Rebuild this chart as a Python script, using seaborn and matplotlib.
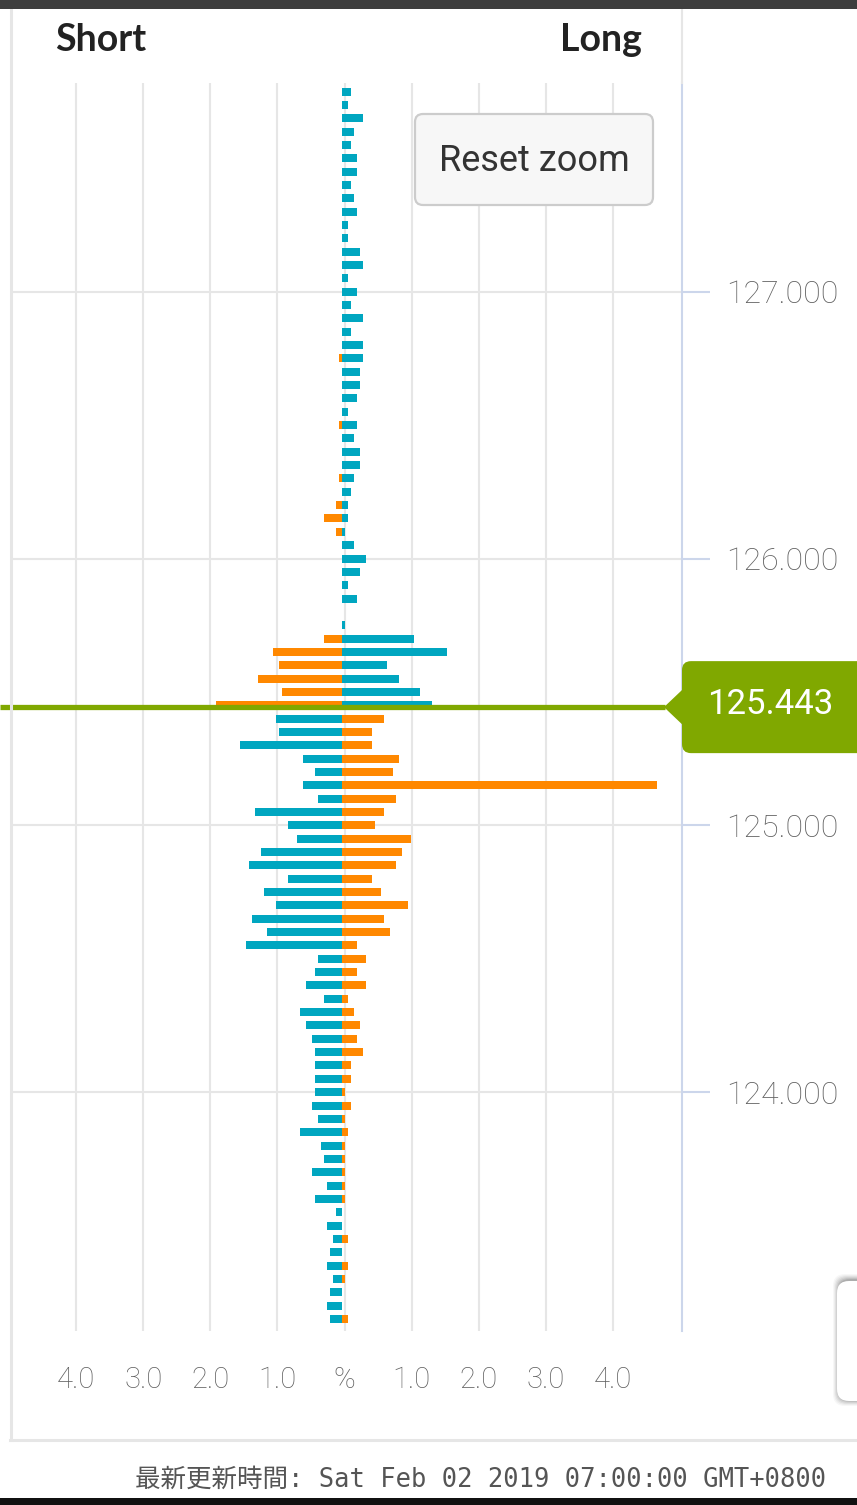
import numpy as np
import pandas as pd
import matplotlib
matplotlib.use("Agg")
import matplotlib.pyplot as plt
import seaborn as sns
from matplotlib import font_manager
from matplotlib.patches import FancyBboxPatch, Rectangle, Polygon
from matplotlib.lines import Line2D
from matplotlib.transforms import IdentityTransform, blended_transform_factory

# ---------------- data ----------------
prices = [
    127.75, 127.70, 127.65, 127.60, 127.55, 127.50, 127.45, 127.40, 127.35, 127.30,
    127.25, 127.20, 127.15, 127.10, 127.05, 127.00, 126.95, 126.90, 126.85, 126.80,
    126.75, 126.70, 126.65, 126.60, 126.55, 126.50, 126.45, 126.40, 126.35, 126.30,
    126.25, 126.20, 126.15, 126.10, 126.05, 126.00, 125.95, 125.90, 125.85, 125.80,
    125.75, 125.70, 125.65, 125.60, 125.55, 125.50, 125.45, 125.40, 125.35, 125.30,
    125.25, 125.20, 125.15, 125.10, 125.05, 125.00, 124.95, 124.90, 124.85, 124.80,
    124.75, 124.70, 124.65, 124.60, 124.55, 124.50, 124.45, 124.40, 124.35, 124.30,
    124.25, 124.20, 124.15, 124.10, 124.05, 124.00, 123.95, 123.90, 123.85, 123.80,
    123.75, 123.70, 123.65, 123.60, 123.55, 123.50, 123.45, 123.40, 123.35, 123.30,
    123.25, 123.20, 123.15,
]

# percentage on the short (left) side
short_pct = [
    0, 0, 0, 0, 0, 0, 0, 0, 0, 0,
    0, 0, 0, 0, 0, 0, 0, 0, 0, 0,
    0.045, 0, 0, 0, 0, 0.045, 0, 0, 0, 0.045,
    0, 0.09, 0.27, 0.09, 0, 0, 0, 0, 0, 0,
    0, 0.27, 1.03, 0.94, 1.25, 0.89, 1.88,
    0.98, 0.94, 1.52, 0.58, 0.40, 0.58, 0.36, 1.30, 0.80, 0.67,
    1.21, 1.39, 0.80, 1.16, 0.98, 1.34, 1.12, 1.43, 0.36, 0.40,
    0.54, 0.27, 0.63, 0.54, 0.45, 0.40, 0.40, 0.40, 0.40, 0.45,
    0.36, 0.63, 0.31, 0.27, 0.45, 0.22, 0.40, 0.09, 0.22, 0.13,
    0.18, 0.22, 0.13, 0.18, 0.22, 0.18,
]

# percentage on the long (right) side
long_pct = [
    0.13, 0.09, 0.31, 0.18, 0.13, 0.22, 0.22, 0.13, 0.18, 0.22,
    0.09, 0.09, 0.27, 0.31, 0.09, 0.22, 0.13, 0.31, 0.13, 0.31,
    0.31, 0.27, 0.27, 0.22, 0.09, 0.22, 0.18, 0.27, 0.27, 0.18,
    0.13, 0.09, 0.09, 0.045, 0.18, 0.36, 0.27, 0.09, 0.22, 0,
    0.045, 1.07, 1.56, 0.67, 0.85, 1.16, 1.34,
    0.63, 0.45, 0.45, 0.85, 0.76, 4.69, 0.80, 0.63, 0.49, 1.03,
    0.89, 0.80, 0.45, 0.58, 0.98, 0.63, 0.72, 0.22, 0.36, 0.22,
    0.36, 0.09, 0.18, 0.27, 0.22, 0.31, 0.13, 0.13, 0.045, 0.13,
    0.045, 0.09, 0.045, 0.045, 0.045, 0.045, 0.045, 0, 0, 0.09,
    0, 0.09, 0.045, 0, 0, 0.09,
]

current_price = 125.443
current_label = "125.443"

x_tick_values = [-4, -3, -2, -1, 0, 1, 2, 3, 4]
x_tick_labels = ["4.0", "3.0", "2.0", "1.0", "%", "1.0", "2.0", "3.0", "4.0"]
y_tick_values = [124, 125, 126, 127]
y_tick_labels = ["124.000", "125.000", "126.000", "127.000"]
header_labels = ["Short", "Long"]
button_label = "Reset zoom"
footer_text = "最新更新時間: Sat Feb 02 2019 07:00:00 GMT+0800"

TEAL = "#00a6c0"
ORANGE = "#ff8800"
GREEN = "#80a800"
GRID = "#e6e6e6"
AXIS = "#ccd6eb"
LABEL = "#606060"

installed = {f.name for f in font_manager.fontManager.ttflist}

# ---------------- build table ----------------
rows = []
for p, s, l in zip(prices, short_pct, long_pct):
    above = p > current_price
    rows.append({"price": p, "pct": -s, "kind": "orange" if above else "teal"})
    rows.append({"price": p, "pct": l, "kind": "teal" if above else "orange"})
df = pd.DataFrame(rows)

# ---------------- figure ----------------
W, H = 857, 1505
fig = plt.figure(figsize=(W / 100, H / 100), dpi=100, facecolor="white")

ax_l, ax_r, ax_t, ax_b = 11, 682, 83, 1331
ax = fig.add_axes([ax_l / W, 1 - ax_b / H, (ax_r - ax_l) / W, (ax_b - ax_t) / H])
ax.set_facecolor("white")

sns.barplot(
    data=df, x="pct", y="price", hue="kind",
    palette={"teal": TEAL, "orange": ORANGE},
    orient="h", native_scale=True, dodge=False, width=0.6,
    errorbar=None, legend=False, saturation=1, linewidth=0, ax=ax, zorder=3,
)

px_per_unit = 67.1
zero_px = 342
ax.set_xlim((ax_l - zero_px) / px_per_unit, (ax_r - zero_px) / px_per_unit)
ax.set_ylim(123.105, 127.782)

grid_offset = 2.5 / px_per_unit
ax.set_xticks([v + grid_offset for v in x_tick_values])
ax.set_xticklabels(x_tick_labels)
ax.set_yticks(y_tick_values)
ax.set_yticklabels(y_tick_labels)
ax.set_xlabel("")
ax.set_ylabel("")

ax.grid(True, color=GRID, linewidth=1.5, zorder=0)
ax.set_axisbelow(True)

for side in ["top", "left", "bottom"]:
    ax.spines[side].set_visible(False)
ax.spines["right"].set_color(AXIS)
ax.spines["right"].set_linewidth(1.5)

ax.yaxis.tick_right()
ax.tick_params(axis="y", left=False, right=True, labelleft=False, labelright=True,
               length=20, width=1.5, color=AXIS, pad=12, labelsize=23, labelcolor=LABEL)
ax.tick_params(axis="x", bottom=True, length=0, pad=25, labelsize=21, labelcolor=LABEL)
for lab in ax.get_yticklabels() + ax.get_xticklabels():
    lab.set_fontfamily(["Roboto", "DejaVu Sans"])
    lab.set_fontweight("light")

# current price line
btf = blended_transform_factory(ax.transAxes, ax.transData)
ax.plot([(0 - ax_l) / (ax_r - ax_l), (665 - ax_l) / (ax_r - ax_l)],
        [current_price, current_price], transform=btf, color=GREEN,
        linewidth=3.8, clip_on=False, zorder=6, solid_capstyle="butt")

ident = IdentityTransform()
py = ax.transData.transform((0, current_price))[1]
fig.add_artist(FancyBboxPatch((682, py - 46), 200, 92,
                              boxstyle="round,pad=0,rounding_size=9",
                              fc=GREEN, ec="none", transform=ident, zorder=5))
fig.add_artist(Polygon([(664, py), (684, py + 19), (684, py - 19)], closed=True,
                       fc=GREEN, ec="none", transform=ident, zorder=5))
fig.text(770, py + 3, current_label, transform=ident, ha="center", va="center",
         color="white", fontsize=25, family=["Roboto", "DejaVu Sans"],
         fontweight="normal", zorder=6)

# header labels
head_family = ["Lato", "DejaVu Sans"] if "Lato" in installed else ["DejaVu Sans"]
fig.text(101 / W, 1 - 40 / H, header_labels[0], ha="center", va="center",
         fontsize=27, fontweight="bold", family=head_family, color="#222222")
fig.text(601 / W, 1 - 40 / H, header_labels[1], ha="center", va="center",
         fontsize=27, fontweight="bold", family=head_family, color="#222222")

# Reset zoom button
fig.add_artist(FancyBboxPatch((415, H - 205), 238, 91,
                              boxstyle="round,pad=0,rounding_size=8",
                              fc="#f7f7f7", ec="#cccccc", lw=1.6,
                              transform=ident, zorder=5))
fig.text(534, H - 161, button_label, transform=ident, ha="center", va="center",
         fontsize=26, family=["Roboto", "DejaVu Sans"], color="#333333", zorder=6)

# partially visible box bottom right with shadow
for i, a in zip(range(6, 0, -1), [0.03, 0.04, 0.05, 0.06, 0.08, 0.10]):
    fig.add_artist(FancyBboxPatch((837 - i + 2, H - 1401 - i + 1), 80 + 2 * i, 120 + 2 * i,
                                  boxstyle="round,pad=0,rounding_size=12",
                                  fc="black", ec="none", alpha=a,
                                  transform=ident, zorder=4))
fig.add_artist(FancyBboxPatch((837, H - 1401), 80, 120,
                              boxstyle="round,pad=0,rounding_size=12",
                              fc="white", ec="none", transform=ident, zorder=5))

# frame lines and bars
fig.add_artist(Line2D([10.5, 10.5], [H - 9, H - 1440], color=GRID, lw=2.2,
                      transform=ident, zorder=2))
fig.add_artist(Line2D([10, W], [H - 1440, H - 1440], color=GRID, lw=2.2,
                      transform=ident, zorder=2))
fig.add_artist(Line2D([682, 682], [H - 9, H - ax_t], color=GRID, lw=1.5,
                      transform=ident, zorder=2))
fig.add_artist(Rectangle((0, H - 9), W, 9, fc="#3e3e3e", ec="none",
                         transform=ident, zorder=7))
fig.add_artist(Rectangle((0, 0), W, 7, fc="#111111", ec="none",
                         transform=ident, zorder=7))

# footer (monospaced look)
if "Noto Sans Mono CJK JP" in installed:
    foot_family = ["Noto Sans Mono CJK JP", "DejaVu Sans Mono"]
    foot_size = 22
else:
    foot_family = ["DejaVu Sans Mono", "Noto Sans CJK JP"]
    foot_size = 18.4
fig.text(135 / W, 1 - 1480 / H, footer_text, ha="left", va="center",
         fontsize=foot_size, family=foot_family, color="#555555")

fig.savefig("out.png", dpi=100, facecolor="white")
